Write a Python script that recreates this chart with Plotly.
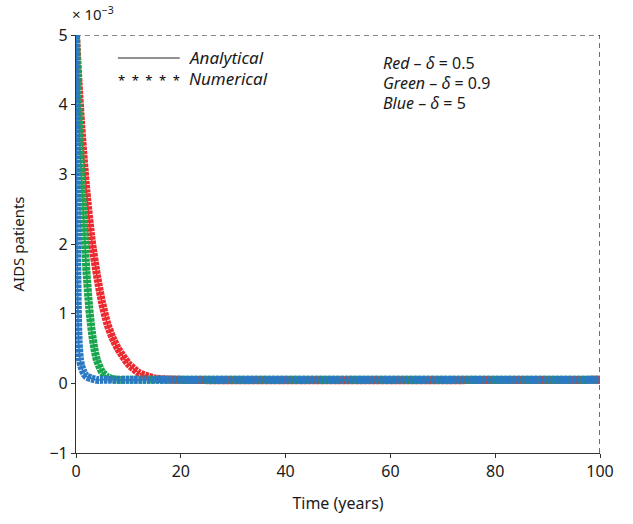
import plotly.graph_objects as go

# Time (years) and AIDS patients (x 10^-3) for three values of delta
t_red = [0, 0.5, 1, 1.5, 2, 3, 4, 5, 6, 7, 8, 10, 12, 15, 20, 100]
y_red = [5, 4.3, 3.7, 3.2, 2.75, 2.05, 1.55, 1.15, 0.85, 0.65, 0.5, 0.28, 0.15, 0.07, 0.05, 0.05]

t_green = [0, 0.5, 1, 1.5, 2, 2.5, 3, 3.5, 4, 5, 6, 7, 8, 10, 100]
y_green = [5, 3.9, 3.0, 2.3, 1.6, 1.1, 0.75, 0.5, 0.33, 0.16, 0.09, 0.06, 0.05, 0.05, 0.05]

t_blue = [0, 0.1, 0.2, 0.3, 0.5, 0.75, 1, 1.5, 2, 3, 4, 5, 100]
y_blue = [5, 3.2, 2.0, 1.3, 0.6, 0.35, 0.25, 0.15, 0.1, 0.07, 0.05, 0.05, 0.05]

x_ticks = [0, 20, 40, 60, 80, 100]
y_ticks = [-1, 0, 1, 2, 3, 4, 5]
y_tick_text = ["\u22121", "0", "1", "2", "3", "4", "5"]

series = [
    (t_red, y_red, "#ec2a30"),
    (t_green, y_green, "#1aa64f"),
    (t_blue, y_blue, "#2b79c3"),
]

FONT = "Noto Sans"
INK = "#1a1a1a"

fig = go.Figure()
for t, y, c in series:
    # analytical solution (thin solid)
    fig.add_trace(go.Scatter(x=t, y=y, mode="lines",
                             line=dict(color=c, width=1.5, shape="spline", smoothing=0.6),
                             showlegend=False, hoverinfo="skip"))
    # numerical solution (dense star markers drawn as a striped band)
    fig.add_trace(go.Scatter(x=t, y=y, mode="lines",
                             line=dict(color=c, width=8, shape="spline", smoothing=0.6,
                                       dash="3.5px,0.8px"),
                             showlegend=False))

fig.update_xaxes(range=[0, 100], tickvals=x_ticks, ticks="outside", ticklen=4,
                 tickcolor="#333", showline=True, linecolor="#333", linewidth=1.2,
                 showgrid=False, zeroline=False,
                 title=dict(text="Time (years)", font=dict(family=FONT, size=16, color=INK),
                            standoff=16),
                 tickfont=dict(family=FONT, size=16, color=INK))
fig.update_yaxes(range=[-1, 5], tickvals=y_ticks, ticktext=y_tick_text, ticks="outside",
                 ticklen=4, tickcolor="#333", showline=True, linecolor="#333", linewidth=1.2,
                 showgrid=False, zeroline=False,
                 title=dict(text="AIDS patients", font=dict(family=FONT, size=15, color=INK),
                            standoff=21),
                 tickfont=dict(family=FONT, size=16, color=INK))

# dashed top and right borders
fig.add_shape(type="line", xref="x", yref="y", x0=0, x1=100, y0=5, y1=5,
              line=dict(color="#111", width=1.2, dash="5px,4px"), layer="below")
fig.add_shape(type="line", xref="x", yref="y", x0=100, x1=100, y0=-1, y1=5,
              line=dict(color="#111", width=1.2, dash="5px,4px"), layer="below")

# exponent label
fig.add_annotation(xref="paper", yref="paper", x=-0.012, y=1.0, yshift=9,
                   xanchor="left", yanchor="bottom", showarrow=False,
                   text="\u00d7 10<sup>\u22123</sup>",
                   font=dict(family=FONT, size=15, color=INK))

# legend: line style key
fig.add_shape(type="line", xref="x", yref="y", x0=8.0, x1=19.8, y0=4.67, y1=4.67,
              line=dict(color="#222", width=1.2))
fig.add_annotation(xref="x", yref="y", x=21.2, y=4.67, xanchor="left", yanchor="middle",
                   showarrow=False, text="<i>Analytical</i>",
                   font=dict(family=FONT, size=17, color=INK))
fig.add_annotation(xref="x", yref="y", x=7.6, y=4.35, xanchor="left", yanchor="middle",
                   showarrow=False, text="*\u2002*\u2002*\u2002*\u2002*",
                   font=dict(family=FONT, size=13, color="#000000"))
fig.add_annotation(xref="x", yref="y", x=21.2, y=4.38, xanchor="left", yanchor="middle",
                   showarrow=False, text="<i>Numerical</i>",
                   font=dict(family=FONT, size=17, color=INK))

# legend: colour key
for i, (name, val) in enumerate([("Red", "0.5"), ("Green", "0.9"), ("Blue", "5")]):
    fig.add_annotation(xref="x", yref="y", x=58.3, y=4.6 - i * 0.29,
                       xanchor="left", yanchor="middle", showarrow=False,
                       text=f"<i>{name}</i> \u2013 <i>\u03b4</i> = {val}",
                       font=dict(family=FONT, size=16, color=INK))

fig.update_layout(width=633, height=524, plot_bgcolor="white", paper_bgcolor="white",
                  margin=dict(l=76, r=33, t=35, b=71), showlegend=False)

fig.write_html("out.html")
